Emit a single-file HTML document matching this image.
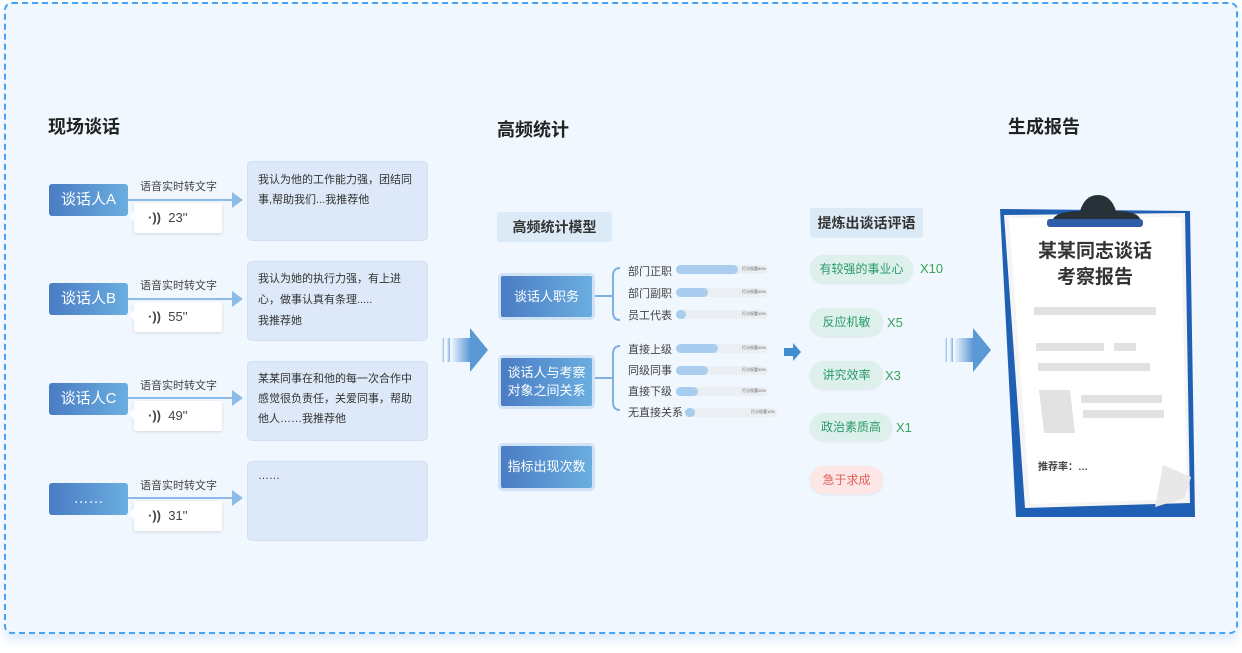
<!DOCTYPE html>
<html><head><meta charset="utf-8">
<style>
*{margin:0;padding:0;box-sizing:border-box}
body{width:1242px;height:653px;background:#fff;position:relative;overflow:hidden;font-family:"Liberation Sans","Noto Sans CJK SC",sans-serif;color:#333}
.a{position:absolute}
#frame{left:4px;top:2px;width:1234px;height:632px;border:2px dashed #45a3f5;border-radius:8px;background:#f0f7fe;box-shadow:0 6px 10px rgba(120,170,230,.25)}
.h{font-size:18px;font-weight:bold;color:#222}
.sp{width:79px;height:32px;border-radius:3px;background:linear-gradient(90deg,#4a7cc4,#6aaee0);color:#fff;font-size:15px;text-align:center;line-height:32px}
.lab{font-size:11px;color:#444}
.line{height:2px;background:#8cbbe8}
.ah{width:0;height:0;border-top:8px solid transparent;border-bottom:8px solid transparent;border-left:11px solid #8cbbe8}
.vb{width:88px;height:30px;background:#fff;border-radius:2px;box-shadow:0 1px 3px rgba(0,0,0,.12);font-size:13px;color:#444;line-height:30px;padding-left:14px}
.vb:before{content:"";position:absolute;left:-5px;top:8px;border-top:5px solid transparent;border-bottom:5px solid transparent;border-right:5px solid #fff}
.tb{width:181px;height:80px;background:#dde9f8;border:1px solid #cfe0f4;border-radius:5px;font-size:11px;color:#333;line-height:20px;padding:8px 10px}
.bb{width:97px;background:linear-gradient(90deg,#4a7cc4,#6aaee0);border:3px solid #cfe2f6;border-radius:5px;color:#fff;font-size:13px;text-align:center;display:flex;align-items:center;justify-content:center;line-height:18px}
.rl{font-size:11px;color:#444}
.bar{width:92px;height:9px;background:#ebeef2;border-radius:5px}
.bar i{display:block;height:9px;background:#a9cdef;border-radius:5px}
.bar b{position:absolute;right:2px;top:1px;font-size:4px;font-weight:normal;color:#666}
.pill{height:28px;border-radius:14px;background:#ddf0ec;color:#2a9a6a;font-size:12px;line-height:28px;padding:0;text-align:center;white-space:nowrap;box-shadow:0 1px 2px rgba(0,0,0,.08)}
.cnt{font-size:13px;color:#3aa45a}
</style></head><body>
<div id="frame" class="a"></div>

<div class="a h" style="left:48px;top:113px">现场谈话</div>
<div class="a h" style="left:497px;top:116px">高频统计</div>
<div class="a h" style="left:1008px;top:113px">生成报告</div>

<div class="a sp" style="left:49px;top:184px">谈话人A</div>
<div class="a lab" style="left:140px;top:178px">语音实时转文字</div>
<div class="a line" style="left:128px;top:199px;width:106px"></div>
<div class="a ah" style="left:232px;top:192px"></div>
<div class="a vb" style="left:134px;top:203px"><span style="font-weight:bold">·))</span>&nbsp; 23''</div>
<div class="a tb" style="left:247px;top:161px">我认为他的工作能力强，团结同事,帮助我们...我推荐他</div>

<div class="a sp" style="left:49px;top:283px">谈话人B</div>
<div class="a lab" style="left:140px;top:277px">语音实时转文字</div>
<div class="a line" style="left:128px;top:298px;width:106px"></div>
<div class="a ah" style="left:232px;top:291px"></div>
<div class="a vb" style="left:134px;top:302px"><span style="font-weight:bold">·))</span>&nbsp; 55''</div>
<div class="a tb" style="left:247px;top:261px;padding-top:7px;line-height:21px">我认为她的执行力强，有上进心，做事认真有条理.....<br>我推荐她</div>

<div class="a sp" style="left:49px;top:383px">谈话人C</div>
<div class="a lab" style="left:140px;top:377px">语音实时转文字</div>
<div class="a line" style="left:128px;top:397px;width:106px"></div>
<div class="a ah" style="left:232px;top:390px"></div>
<div class="a vb" style="left:134px;top:401px"><span style="font-weight:bold">·))</span>&nbsp; 49''</div>
<div class="a tb" style="left:247px;top:361px;padding-top:7px">某某同事在和他的每一次合作中感觉很负责任，关爱同事，帮助他人……我推荐他</div>

<div class="a sp" style="left:49px;top:483px">……</div>
<div class="a lab" style="left:140px;top:477px">语音实时转文字</div>
<div class="a line" style="left:128px;top:497px;width:106px"></div>
<div class="a ah" style="left:232px;top:490px"></div>
<div class="a vb" style="left:134px;top:501px"><span style="font-weight:bold">·))</span>&nbsp; 31''</div>
<div class="a tb" style="left:247px;top:461px;padding-top:4px">……</div>

<svg class="a" style="left:440px;top:325px" width="52" height="50"><defs><linearGradient id="ga" x1="0" x2="1"><stop offset="0" stop-color="#e8f1fb"/><stop offset="1" stop-color="#4f8fd2"/></linearGradient></defs>
<rect x="2" y="13" width="2" height="24" fill="url(#ga)" opacity=".6"/><rect x="7" y="13" width="3" height="24" fill="url(#ga)" opacity=".7"/><rect x="12" y="13" width="20" height="24" fill="url(#ga)"/><polygon points="30,3 48,25 30,47" fill="#5b98d6"/></svg>

<div class="a" style="left:497px;top:212px;width:115px;height:30px;background:#dceaf7;border-radius:3px;font-size:14px;font-weight:bold;text-align:center;line-height:30px;color:#333">高频统计模型</div>
<div class="a bb" style="left:498px;top:273px;height:47px">谈话人职务</div>
<div class="a bb" style="left:498px;top:355px;height:54px">谈话人与考察<br>对象之间关系</div>
<div class="a bb" style="left:498px;top:443px;height:48px">指标出现次数</div>

<svg class="a" style="left:595px;top:260px" width="30" height="165" fill="none" stroke="#7fb0e0" stroke-width="2">
<path d="M0 36 H18 M25 8 Q18 8 18 16 V52 Q18 60 25 60"/>
<path d="M0 118 H18 M25 86 Q18 86 18 94 V142 Q18 150 25 150"/></svg>

<div class="a rl" style="left:628px;top:263px">部门正职</div>
<div class="a bar" style="left:676px;top:265px"><i style="width:62px"></i><b>打分权重60%</b></div>
<div class="a rl" style="left:628px;top:285px">部门副职</div>
<div class="a bar" style="left:676px;top:288px"><i style="width:32px"></i><b>打分权重40%</b></div>
<div class="a rl" style="left:628px;top:307px">员工代表</div>
<div class="a bar" style="left:676px;top:310px"><i style="width:10px"></i><b>打分权重10%</b></div>
<div class="a rl" style="left:628px;top:341px">直接上级</div>
<div class="a bar" style="left:676px;top:344px"><i style="width:42px"></i><b>打分权重40%</b></div>
<div class="a rl" style="left:628px;top:362px">同级同事</div>
<div class="a bar" style="left:676px;top:366px"><i style="width:32px"></i><b>打分权重30%</b></div>
<div class="a rl" style="left:628px;top:383px">直接下级</div>
<div class="a bar" style="left:676px;top:387px"><i style="width:22px"></i><b>打分权重20%</b></div>
<div class="a rl" style="left:628px;top:404px">无直接关系</div>
<div class="a bar" style="left:685px;top:408px"><i style="width:10px"></i><b>打分权重10%</b></div>

<svg class="a" style="left:784px;top:342px" width="18" height="20"><rect x="0" y="6" width="10" height="8" fill="#3f8fd0"/><polygon points="9,1 17,10 9,19" fill="#3f8fd0"/></svg>

<div class="a" style="left:810px;top:208px;width:113px;height:30px;background:#dceaf7;border-radius:3px;font-size:14px;font-weight:bold;text-align:center;line-height:30px;color:#333">提炼出谈话评语</div>
<div class="a pill" style="left:810px;top:255px;width:103px">有较强的事业心</div><div class="a cnt" style="left:920px;top:261px">X10</div>
<div class="a pill" style="left:810px;top:308px;width:73px">反应机敏</div><div class="a cnt" style="left:887px;top:315px">X5</div>
<div class="a pill" style="left:810px;top:361px;width:73px">讲究效率</div><div class="a cnt" style="left:885px;top:368px">X3</div>
<div class="a pill" style="left:810px;top:413px;width:82px">政治素质高</div><div class="a cnt" style="left:896px;top:420px">X1</div>
<div class="a pill" style="left:810px;top:466px;width:73px;background:#fde6e6;color:#e0605a">急于求成</div>

<svg class="a" style="left:943px;top:325px" width="52" height="50"><rect x="2" y="13" width="2" height="24" fill="url(#ga)" opacity=".6"/><rect x="7" y="13" width="3" height="24" fill="url(#ga)" opacity=".7"/><rect x="12" y="13" width="20" height="24" fill="url(#ga)"/><polygon points="30,3 48,25 30,47" fill="#5b98d6"/></svg>

<svg class="a" style="left:995px;top:185px" width="210" height="340">
<polygon points="5,24 195,26 200,332 21,332" fill="#2060b4"/>
<polygon points="9,30 190,28 195,318 30,323" fill="#f4f4f4"/>
<polygon points="14,33 186,32 192,314 35,319" fill="#fff"/>
<path d="M57 36 Q60 26 85 26 Q90 10 103 10 Q116 10 121 26 Q144 26 146 36 Z" fill="#263238"/>
<rect x="52" y="34" width="96" height="8" rx="3" fill="#2e5ca8"/>
<text x="100" y="72" font-size="19" font-weight="bold" fill="#333" text-anchor="middle" font-family="Liberation Sans,Noto Sans CJK SC,sans-serif">某某同志谈话</text>
<text x="100" y="98" font-size="19" font-weight="bold" fill="#333" text-anchor="middle" font-family="Liberation Sans,Noto Sans CJK SC,sans-serif">考察报告</text>
<rect x="39" y="122" width="122" height="8" fill="#e2e2e2"/>
<rect x="41" y="158" width="68" height="8" fill="#e2e2e2"/><rect x="119" y="158" width="22" height="8" fill="#e2e2e2"/>
<rect x="43" y="178" width="112" height="8" fill="#e2e2e2"/>
<polygon points="44,205 75,205 80,248 49,248" fill="#e2e2e2"/>
<rect x="86" y="210" width="81" height="8" fill="#e2e2e2"/><rect x="88" y="225" width="81" height="8" fill="#e2e2e2"/>
<text x="43" y="285" font-size="10" font-weight="bold" fill="#444" font-family="Liberation Sans,Noto Sans CJK SC,sans-serif">推荐率：…</text>
<path d="M168 280 L196 292 L190 313 L160 322 Z" fill="#e8e8e8"/>
</svg>
</body></html>
